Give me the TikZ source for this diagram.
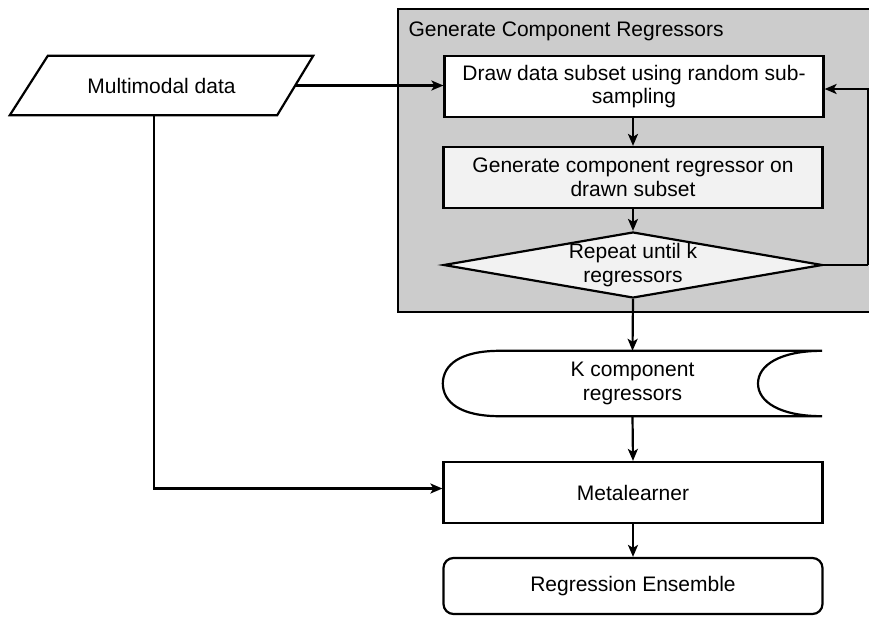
\documentclass[tikz,border=0pt]{standalone}
\usepackage{fontspec}
\setmainfont{Liberation Sans}
\usetikzlibrary{shapes.geometric,arrows.meta,calc}
\definecolor{grpgray}{RGB}{204,204,204}
\definecolor{lightfill}{RGB}{242,242,242}
\begin{document}
\begin{tikzpicture}[x=1pt,y=-1pt,
  every node/.style={font=\fontsize{21}{23.5}\selectfont},
  lw/.style={line width=2.2pt},
  box/.style={draw,lw,rectangle,minimum width=379pt,inner sep=0pt,align=center},
  conn/.style={lw,-{Stealth[length=12pt,width=10pt,inset=3pt]}},
  plain/.style={lw}]
\useasboundingbox (0,0) rectangle (869,616);
% group container
\fill[grpgray] (398,9) rectangle (869,312);
\draw[lw] (869,9) -- (398,9) -- (398,312) -- (869,312);
\node[anchor=west] (grptitle) at (405,31) {Generate Component Regressors};
% boxes
\node[box,fill=white,minimum height=61pt] (drawbox) at (634,86.5) {Draw data subset using random sub-\\sampling};
\node[box,fill=lightfill,minimum height=61pt] (genbox) at (633,177.5) {Generate component regressor on\\drawn subset};
\node[diamond,draw,lw,fill=lightfill,minimum width=379pt,minimum height=66pt,inner sep=0pt,aspect=5.7,
  label={[align=center]center:Repeat until k\\regressors}] (rep) at (633,265) {};
% storage
\node[minimum width=379pt,minimum height=65pt,inner sep=0pt,align=center] (store) at (632.5,383.5) {};
\draw[lw,fill=white] (store.north east) .. controls ++(-42,0) and (758,365) .. (758,383.5)
  .. controls (758,402) and ($(store.south east)+(-42,0)$) .. (store.south east)
  -- ($(store.south west)+(57,0)$) .. controls ($(store.south west)+(17,0)$) and (443,402) .. (store.west)
  .. controls (443,365) and ($(store.north west)+(17,0)$) .. ($(store.north west)+(57,0)$) -- cycle;
\node[align=center] (storetext) at (store) {K component\\regressors};
% metalearner and result
\node[box,fill=white,minimum height=61pt] (meta) at (633,492.5) {Metalearner};
\node[box,fill=white,minimum height=56pt,rounded corners=10pt] (result) at (633,586) {Regression Ensemble};
% multimodal data parallelogram
\node[minimum width=303pt,minimum height=59pt,inner sep=0pt] (mm) at (161.5,85.5) {Multimodal data};
\draw[lw] (mm.south west) -- ($(mm.north west)+(38,0)$) -- (mm.north east) -- ($(mm.south east)+(-36,0)$) -- cycle;
\coordinate (mmright) at ($(mm.east)+(-18,0)$);
\coordinate (mmbottom) at ($(mm.south)+(-7.5,0)$);
\coordinate (loopc) at ($(rep.east)+(44,0)$);
% connectors
\draw[conn] (mmright) -- (mmright -| drawbox.west);
\draw[conn] (drawbox.south -| genbox.north) -- (genbox.north);
\draw[conn] (genbox.south) -- (rep.north);
\draw[plain] (rep.east) -- (loopc);
\draw[conn] (loopc) |- ([yshift=-2.5]drawbox.east);
\draw[conn] (rep.south) -- (store.north);
\draw[conn] (store.south) -- (meta.north);
\draw[conn] (meta.south) -- (result.north);
\draw[conn] (mmbottom) |- ([yshift=4]meta.west);
\end{tikzpicture}
\end{document}
